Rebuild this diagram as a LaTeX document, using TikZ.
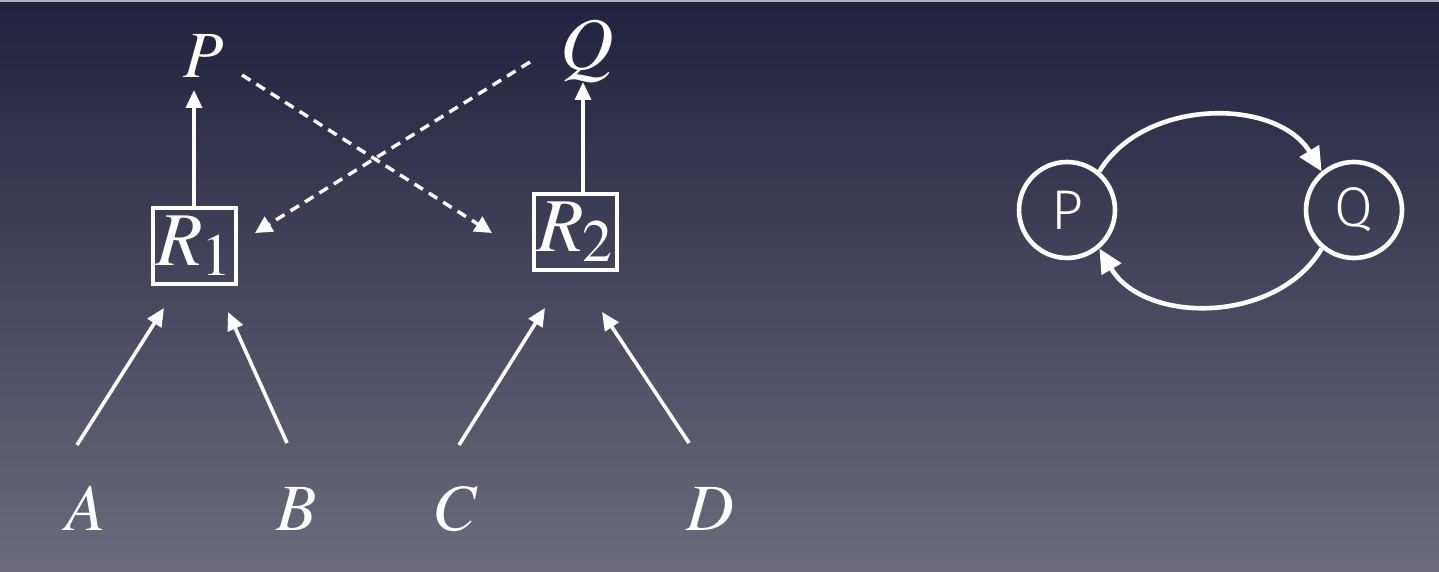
\documentclass[tikz,border=0pt]{standalone}
\usepackage{fontspec}
\newfontfamily\tms{texgyretermes-italic.otf}
\newfontfamily\tmsup{texgyretermes-regular.otf}
\newfontfamily\circfont{Fira Sans Light}
\usetikzlibrary{arrows.meta}
\definecolor{bgtop}{RGB}{34,33,62}
\definecolor{bgbot}{RGB}{108,106,124}
\newcommand{\rlab}[1]{{\fontsize{38}{38}\selectfont\tms R}\kern-1pt\raisebox{-5pt}{\fontsize{30}{30}\selectfont\tmsup #1}}
\begin{document}
\begin{tikzpicture}[x=0.5pt,y=-0.5pt,
  lbl/.style={text=white,font=\fontsize{33}{33}\selectfont\tms,inner sep=0pt},
  rbox/.style={draw=white,line width=2pt,minimum width=41.5pt,minimum height=38pt,inner sep=0pt,text=white},
  circ/.style={draw=white,circle,line width=2.3pt,minimum size=48pt,inner sep=0pt,text=white,font=\circfont\fontsize{28}{28}\selectfont},
  arr/.style={draw=white,line width=1.8pt,-{Triangle[length=9pt,width=8pt]}},
  darr/.style={draw=white,line width=1.7pt,dash pattern=on 5pt off 3.5pt,-{Triangle[length=8.5pt,width=8.5pt]}},
  carr/.style={draw=white,line width=2.3pt,-{Triangle[length=12pt,width=11pt]}}]
\shade[top color=bgtop,bottom color=bgbot] (0,0) rectangle (1439,572);
\useasboundingbox (0,0) rectangle (1439,572);
\fill[white!65!bgtop] (0,0) rectangle (1439,2);

% left diagram
\node[lbl,anchor=base] (P) at (204,78) {P};
\node[lbl,anchor=base,font=\fontsize{37}{37}\selectfont\tms] (Q) at (587,70) {Q};
\node[rbox] (R1) at (194,246) {\rlab{1}};
\node[rbox] (R2) at (575,232) {\rlab{2}};
\node[lbl,anchor=base] (A) at (86,530) {A};
\node[lbl,anchor=base] (B) at (297,530) {B};
\node[lbl,anchor=base] (C) at (455,530) {C};
\node[lbl,anchor=base] (D) at (710,530) {D};

\coordinate (ptip) at (194,90);
\coordinate (qtip) at (583,82);
\draw[arr] (R1.north -| ptip) -- (ptip);
\draw[arr] (R2.north -| qtip) -- (qtip);

\coordinate (d1s) at (242,75);
\coordinate (d1e) at (492,233);
\coordinate (d2s) at (530,62);
\coordinate (d2e) at (255,233);
\draw[darr] (d1s) -- (d1e);
\draw[darr] (d2s) -- (d2e);

\coordinate (as) at (77,445);
\coordinate (ae) at (164,308);
\coordinate (bs) at (287,443);
\coordinate (be) at (228,312);
\coordinate (cs) at (459,445);
\coordinate (ce) at (545,308);
\coordinate (ds) at (689,443);
\coordinate (de) at (602,312);
\draw[arr] (as) -- (ae);
\draw[arr] (bs) -- (be);
\draw[arr] (cs) -- (ce);
\draw[arr] (ds) -- (de);

% right diagram
\node[circ] (Pc) at (1067,210) {P};
\node[circ] (Qc) at (1354,210) {Q};
\draw[carr] (Pc.50) .. controls +(45,-74) and +(-45,-74) .. (Qc.130);
\draw[carr] (Qc.230) .. controls +(-45,76) and +(45,76) .. (Pc.310);
\end{tikzpicture}
\end{document}
